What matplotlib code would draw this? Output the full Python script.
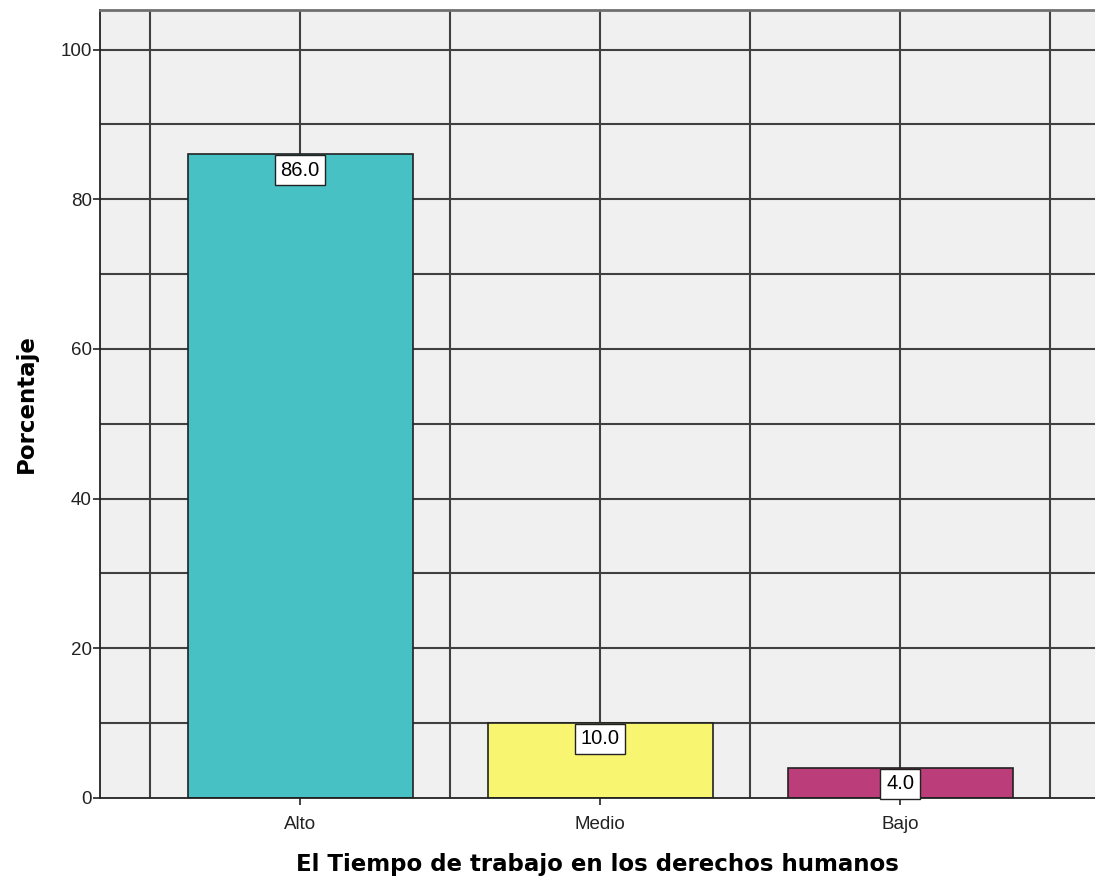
import matplotlib.pyplot as plt
import numpy as np

# Data
categorias = ['Alto', 'Medio', 'Bajo']
porcentajes = [86.0, 10.0, 4.0]
colores = ['#47C1C4', '#F8F571', '#BB3D7A']

fig = plt.figure(figsize=(10.95, 8.82), dpi=100)
ax = fig.add_axes([100 / 1095, 1 - 798 / 882, 995 / 1095, 788 / 882])
ax.set_facecolor('#F0F0F0')

x = np.arange(len(categorias))

# Grid lines drawn behind the bars
for gx in np.arange(-0.5, 2.6, 0.5):
    ax.axvline(gx, color='#404040', linewidth=1.5, zorder=0)
for gy in np.arange(10, 101, 10):
    ax.axhline(gy, color='#404040', linewidth=1.5, zorder=0)

bars = ax.bar(x, porcentajes, width=0.75, color=colores,
              edgecolor='#222222', linewidth=1.2, zorder=2)

# Value labels in white boxes hanging from the bar top
for xi, val in zip(x, porcentajes):
    ax.annotate(f'{val:.1f}', xy=(xi, val), xytext=(0, -4.5),
                textcoords='offset points', ha='center', va='top',
                fontsize=14.5, family='Liberation Sans', zorder=4,
                bbox=dict(boxstyle='square,pad=0.28', facecolor='white',
                          edgecolor='#222222', linewidth=1))

ax.set_xlim(-0.667, 2.65)
ax.set_ylim(0, 105.3)
ax.set_yticks([0, 20, 40, 60, 80, 100])
ax.set_xticks(x)
ax.set_xticklabels(categorias)
ax.tick_params(axis='both', direction='out', length=5, width=1.2,
               labelsize=13.5, colors='#222222')
ax.tick_params(axis='x', pad=8)
ax.tick_params(axis='y', pad=1)
for lab in ax.get_xticklabels() + ax.get_yticklabels():
    lab.set_family('Liberation Sans')

ax.spines['right'].set_visible(False)
ax.spines['top'].set_color('#707070')
ax.spines['top'].set_linewidth(2)
ax.spines['left'].set_color('#222222')
ax.spines['bottom'].set_color('#222222')
ax.spines['left'].set_linewidth(1.3)
ax.spines['bottom'].set_linewidth(1.3)

ax.set_xlabel('El Tiempo de trabajo en los derechos humanos',
              fontsize=16.5, fontweight='bold', labelpad=14)
ax.set_ylabel('Porcentaje', fontsize=16.5, fontweight='bold', labelpad=16)

fig.savefig('out.png', dpi=100)
